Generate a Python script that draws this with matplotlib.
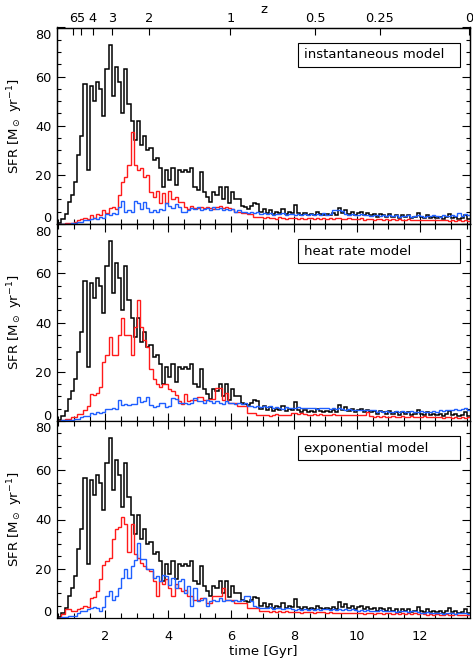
import numpy as np
import matplotlib
matplotlib.use("Agg")
import matplotlib.pyplot as plt
import matplotlib.transforms as mtransforms
from matplotlib.patches import Rectangle
from matplotlib.ticker import MultipleLocator

# ---- time binning of the star formation histories (Gyr) ----
t_first_edge = 0.5
bin_width = 0.1

# total SFR of the simulated galaxy (same reference curve in every panel)
sfr_total = [
    0.5, 2, 4, 9, 12,
    17, 28, 36, 57, 22,
    56, 50, 58, 55, 44,
    63, 73, 52, 64, 58,
    45, 63, 49, 42, 34,
    42, 32, 36, 30, 31,
    26, 27, 23, 15, 22,
    18, 23, 16, 22, 21,
    22, 21, 23, 15, 14,
    21, 13, 11, 9, 13,
    12, 15, 10, 15, 8.5,
    13, 10, 10, 7.5, 7,
    6.3, 7.3, 8.5, 8, 5,
    6, 4.5, 5.5, 4, 5,
    4.5, 6, 4, 5, 4.5,
    7.8, 4.5, 3.5, 4.5, 3.5,
    4, 3.5, 5, 4, 3.5,
    4, 3.5, 4.5, 3.5, 6.4,
    4.5, 5.5, 4, 5, 3.5,
    4.5, 5, 3.5, 4.5, 3.5,
    4, 3, 4, 3.5, 3,
    4, 3, 3.5, 2.5, 3.5,
    3, 3.5, 2.5, 3, 4.5,
    3, 2.5, 3.5, 2.5, 3,
    2.5, 3, 2, 3, 4,
    2.5, 3, 2, 2.5, 3.5,
    2,
]

# instantaneous model
sfr_inst_red = [
    0, 0, 0.3, 0.5, 0.5,
    1, 1.5, 2, 2.5, 2,
    3.5, 2.5, 4, 3.5, 5.5,
    4.5, 6.5, 7, 6, 12,
    17, 19, 24, 37.5, 24,
    22, 23, 19, 20, 13,
    11, 13.5, 8.6, 12.5, 8.6,
    13.5, 10, 11, 9, 9,
    7, 6, 7.5, 6.5, 6.5,
    7, 6.5, 7, 6.5, 6,
    7, 7.5, 6.5, 7, 6.5,
    6, 5, 5, 4.5, 4.5,
    4, 4, 3, 3, 2.8,
    2.5, 2.8, 2.3, 2.6, 2.2,
    2.8, 2.4, 2.2, 2.6, 2.3,
    2.5, 2.2, 2.4, 2.1, 2.5,
    2.3, 2.0, 2.4, 2.2, 2.5,
    2.2, 2.4, 2.0, 2.3, 2.6,
    2.2, 2.0, 2.3, 1.9, 2.2,
    2.0, 2.3, 1.8, 2.1, 2.0,
    1.8, 2.1, 1.9, 1.7, 2.0,
    1.8, 2.0, 1.7, 1.9, 1.8,
    1.6, 1.9, 1.7, 1.8, 1.6,
    1.8, 1.6, 1.7, 1.5, 1.8,
    1.6, 1.5, 1.7, 1.5, 1.4,
    1.6, 1.4, 1.5, 1.3, 1.5,
    1.4,
]
sfr_inst_blue = [
    0, 0, 0, 0.2, 0.3,
    0.5, 0.7, 1, 1.5, 1.5,
    2, 2.5, 2, 3, 2.5,
    4, 3.5, 4.5, 4, 7,
    9.5, 5, 5.5, 5, 9.5,
    8.5, 6, 9, 6.5, 5,
    5.5, 5, 6, 5.5, 8.5,
    7.5, 6.5, 8, 7, 5,
    5, 5.5, 6.5, 6, 7,
    5.5, 6, 6.5, 5.5, 7,
    6, 6.5, 5.5, 6, 5.5,
    6, 5, 5.5, 5, 5,
    4.5, 5, 4.5, 5, 4,
    4.5, 4, 4.5, 3.8, 4.2,
    4, 4.6, 3.8, 4.2, 4,
    3.8, 4.2, 3.6, 4, 3.8,
    4.2, 3.6, 4, 3.8, 4.4,
    3.8, 4.2, 5.7, 5.5, 5.7,
    5.2, 4, 3.8, 4.2, 3.6,
    3.8, 4, 3.5, 3.8, 3.4,
    3.6, 3.8, 3.2, 3.6, 3.4,
    3.5, 3.2, 3.6, 3.0, 3.4,
    3.2, 3.5, 3.0, 3.3, 3.6,
    3.2, 3.0, 3.4, 3.1, 3.5,
    3.2, 3.0, 3.6, 3.2, 3.4,
    3.6, 3.2, 4.4, 3.4, 4.0,
    3.6,
]

# heat rate model
sfr_heat_red = [
    0, 0.5, 1, 1, 1.8,
    1.8, 3, 3, 4.4, 6,
    11, 10.5, 11.5, 14, 24,
    27, 34, 27, 27, 35,
    42, 35, 35, 27, 38,
    49, 38, 33, 30, 21,
    17, 15, 14, 15, 15,
    13, 12, 10.5, 8, 7,
    11, 8, 8.5, 8.6, 9.9,
    9.9, 8.6, 8.6, 9, 9,
    13.3, 13.3, 8.6, 11.3, 7.2,
    7.2, 7.2, 5.9, 5.9, 5.9,
    3.1, 3.1, 3.1, 2.4, 2.4,
    2.4, 2.6, 2.2, 2.5, 2.7,
    2.4, 2.6, 2.3, 2.5, 3.1,
    3.1, 2.9, 3.2, 3.0, 2.6,
    2.6, 2.8, 2.4, 2.7, 2.5,
    2.6, 2.4, 2.8, 2.5, 2.6,
    2.5, 2.3, 2.6, 2.4, 2.5,
    2.6, 2.3, 2.5, 3.5, 2.2,
    1.8, 2.0, 1.7, 1.9, 1.8,
    1.8, 1.9, 1.7, 1.8, 2.0,
    1.8, 1.7, 1.9, 1.8, 1.7,
    1.8, 1.9, 1.6, 1.8, 1.7,
    1.5, 1.6, 1.4, 1.5, 1.6,
    1.4, 1.5, 1.3, 1.5, 1.4,
    1.5,
]
sfr_heat_blue = [
    0, 0.3, 0.5, 0.6, 0.6,
    0.8, 1, 1.8, 2, 1.9,
    3.3, 3, 3.5, 3.3, 3.5,
    5, 4.8, 5.2, 5, 8.5,
    6.5, 7, 6.5, 7, 6.8,
    9.9, 7.9, 8, 9.9, 6.5,
    5.8, 6, 7.2, 7.2, 5.8,
    6, 9.2, 9, 7.5, 7.5,
    7.2, 7, 7.2, 9.2, 8,
    8, 7.5, 8.5, 8, 7.5,
    8, 7.5, 7, 8, 7.5,
    7.2, 7, 7.5, 6.8, 7.2,
    5.9, 6, 5.5, 6, 5.8,
    6, 5.6, 5.9, 5.3, 5.5,
    5.3, 5, 5.5, 5.2, 5.4,
    5.3, 5.6, 5.1, 5.4, 5.2,
    5.2, 5.4, 5, 5.3, 5.1,
    5.2, 4.9, 5.4, 5, 5.3,
    5, 4.5, 4.7, 4.3, 4.6,
    4.4, 4.6, 4.3, 4.5, 4.4,
    4.5, 3.8, 4, 3.7, 3.9,
    3.8, 3.6, 3.9, 3.7, 4,
    3.8, 3.7, 3.9, 3.6, 3.8,
    3.9, 3.7, 3.8, 3.6, 3.9,
    3.7, 4.5, 4.2, 4.6, 4.3,
    4.5, 5, 4.4, 4.7, 5.2,
    4.6,
]

# exponential model
sfr_exp_red = [
    0, 1.5, 3.5, 3.8, 2.8,
    2.8, 3.8, 4, 5, 4.5,
    8, 8.5, 11, 16, 21.7,
    23, 24.5, 32, 36, 37,
    41, 38, 27, 38, 26,
    24.5, 22.5, 21, 20, 19,
    15, 8.8, 15, 14, 16,
    12.3, 9, 14, 12.3, 11,
    11.5, 9, 8.8, 7.5, 7.5,
    8.2, 8.2, 6.2, 6.2, 8.9,
    8.9, 8.9, 12.3, 7.5, 7.5,
    7.5, 6.2, 6.2, 6.2, 6.2,
    4.1, 4.1, 4.1, 4.1, 2.7,
    2.7, 2.9, 2.5, 2.8, 2.6,
    2.7, 2.5, 2.9, 2.6, 2.4,
    2.4, 2.6, 2.2, 2.5, 2.3,
    2.4, 2.2, 2.6, 2.3, 2.4,
    2.1, 2.3, 2.0, 2.2, 2.1,
    2.0, 2.2, 2.1, 1.9, 2.2,
    1.9, 2.0, 1.8, 2.1, 1.9,
    1.8, 2.0, 1.9, 1.7, 2.0,
    1.9, 1.8, 2.0, 1.7, 1.9,
    1.8, 2.0, 1.7, 1.9, 1.8,
    2.0, 1.6, 1.4, 1.5, 1.3,
    1.5, 1.4, 1.3, 1.5, 1.4,
    1.3, 1.5, 1.4, 1.2, 1.4,
    1.3,
]
sfr_exp_blue = [
    0, 0.3, 0.5, 0.8, 1,
    1, 2, 2.7, 2.7, 3.5,
    4, 4.5, 4, 2.8, 4.5,
    8.8, 10.8, 7.4, 8.8, 12.3,
    16.3, 19.7, 16.3, 21, 23.5,
    30.6, 24, 24, 20, 20,
    16.3, 17, 15, 17.6, 17,
    13.6, 16.3, 12.3, 15, 16,
    10, 13, 4.8, 12, 7,
    7.5, 8, 4.8, 7, 7.5,
    7, 8, 7, 7.5, 7.5,
    7, 7.5, 7, 7.5, 8.9,
    9, 7, 4.8, 4.5, 4,
    4.1, 4, 4.3, 3.8, 4.1,
    4, 3.7, 4.2, 3.9, 3.6,
    3.4, 3.6, 3.3, 3.5, 3.4,
    3.5, 3.2, 3.6, 3.3, 3.5,
    3.5, 3.3, 3.7, 3.4, 3.6,
    3.4, 3.6, 3.2, 3.5, 3.3,
    3, 3.2, 2.9, 3.1, 2.8,
    3, 2.8, 3.1, 2.9, 2.7,
    2.8, 2.9, 2.6, 2.8, 2.7,
    2.9, 2.6, 2.8, 2.7, 2.5,
    2.2, 2.0, 2.3, 1.9, 2.1,
    2.0, 2.2, 1.8, 2.1, 1.9,
    2.0, 1.8, 2.1, 1.9, 2.0,
    1.8,
]

panel_labels = ["instantaneous model", "heat rate model", "exponential model"]
model_series = [
    (sfr_inst_red, sfr_inst_blue),
    (sfr_heat_red, sfr_heat_blue),
    (sfr_exp_red, sfr_exp_blue),
]

time_ticks = [2, 4, 6, 8, 10, 12]
sfr_ticks = [0, 20, 40, 60, 80]
z_ticks = [6, 5, 4, 3, 2, 1, 0.5, 0.25, 0]
z_tick_labels = ["6", "5", "4", "3", "2", "1", "0.5", "0.25", "0"]

t_range = (0.46, 13.6)
sfr_range = (0, 80)

# flat LCDM cosmology used to map redshift onto cosmic time
H0 = 73.0
omega_m = 0.25
omega_l = 0.75


def cosmic_time(z):
    hubble_time = 977.8 / H0  # Gyr
    pref = 2.0 / (3.0 * np.sqrt(omega_l)) * hubble_time
    return pref * np.arcsinh(np.sqrt(omega_l / omega_m) * (1.0 + np.asarray(z)) ** -1.5)


edges = t_first_edge + bin_width * np.arange(len(sfr_total) + 1)

FS = 9.5
TICK_FS = 9.3
plt.rcParams["font.family"] = ["DejaVu Sans"]
plt.rcParams["font.size"] = FS

fig = plt.figure(figsize=(4.73, 6.61), dpi=100)
W, H = 473.0, 661.0
left_px, right_px = 57.0, 470.0
panel_edges_px = [27.5, 224.0, 421.0, 618.0]

COL_TOTAL = "black"
COL_RED = "#ff1a1a"
COL_BLUE = "#1f5fff"

axes = []
for i in range(3):
    top_px = panel_edges_px[i]
    bot_px = panel_edges_px[i + 1]
    ax = fig.add_axes([left_px / W, 1 - bot_px / H,
                       (right_px - left_px) / W, (bot_px - top_px) / H])
    axes.append(ax)

    red_vals, blue_vals = model_series[i]
    ax.stairs(sfr_total, edges, baseline=None, color=COL_TOTAL, lw=1.1, zorder=2)
    ax.stairs(red_vals, edges, baseline=None, color=COL_RED, lw=1.0, zorder=3)
    ax.stairs(blue_vals, edges, baseline=None, color=COL_BLUE, lw=1.0, zorder=4)

    ax.set_xlim(*t_range)
    ax.set_ylim(*sfr_range)
    ax.set_xticks(time_ticks)
    ax.xaxis.set_minor_locator(MultipleLocator(0.5))
    ax.set_yticks(sfr_ticks)
    ax.yaxis.set_minor_locator(MultipleLocator(5))
    ax.tick_params(which="both", direction="in", top=(i > 0), right=True,
                   labelsize=TICK_FS, width=0.8)
    ax.tick_params(which="major", axis="x", length=6)
    ax.tick_params(which="minor", axis="x", length=3.5)
    ax.tick_params(which="major", axis="y", length=5.5)
    ax.tick_params(which="minor", axis="y", length=3)
    ax.tick_params(axis="x", pad=9)
    ax.tick_params(axis="y", pad=4)
    for sp in ax.spines.values():
        sp.set_linewidth(0.9)

    # the end labels of the SFR axis sit just inside the panel
    ytick_objs = ax.yaxis.get_major_ticks()
    shift_in = 6.5 / fig.dpi
    down = mtransforms.ScaledTranslation(0, -shift_in, fig.dpi_scale_trans)
    up = mtransforms.ScaledTranslation(0, shift_in, fig.dpi_scale_trans)
    ytick_objs[-1].label1.set_transform(ytick_objs[-1].label1.get_transform() + down)
    ytick_objs[0].label1.set_transform(ytick_objs[0].label1.get_transform() + up)

    if i < 2:
        ax.tick_params(axis="x", labelbottom=False)
    else:
        ax.set_xlabel("time [Gyr]", fontsize=FS, labelpad=1)

    ax.set_ylabel(r"SFR [M$_\odot$ yr$^{-1}$]", fontsize=FS)
    ax.yaxis.set_label_coords(-0.078, 0.5)

    # model name in a framed box at the upper right
    ax.add_patch(Rectangle((0.5835, 0.80), 0.3923, 0.122, transform=ax.transAxes,
                           fill=False, ec="black", lw=0.8, zorder=5))
    ax.text(0.598, 0.861, panel_labels[i], transform=ax.transAxes,
            ha="left", va="center", fontsize=FS, zorder=6)

# redshift axis along the top of the first panel
zax = axes[0].twiny()
zax.set_xlim(*t_range)
zax.set_xticks(cosmic_time(z_ticks))
zax.set_xticklabels(z_tick_labels)
zax.tick_params(direction="in", length=5, width=0.8, labelsize=TICK_FS, pad=2)
zax.set_xlabel("z", fontsize=FS, labelpad=-1)
for sp in zax.spines.values():
    sp.set_linewidth(0.9)

fig.savefig("out.png", dpi=100)
